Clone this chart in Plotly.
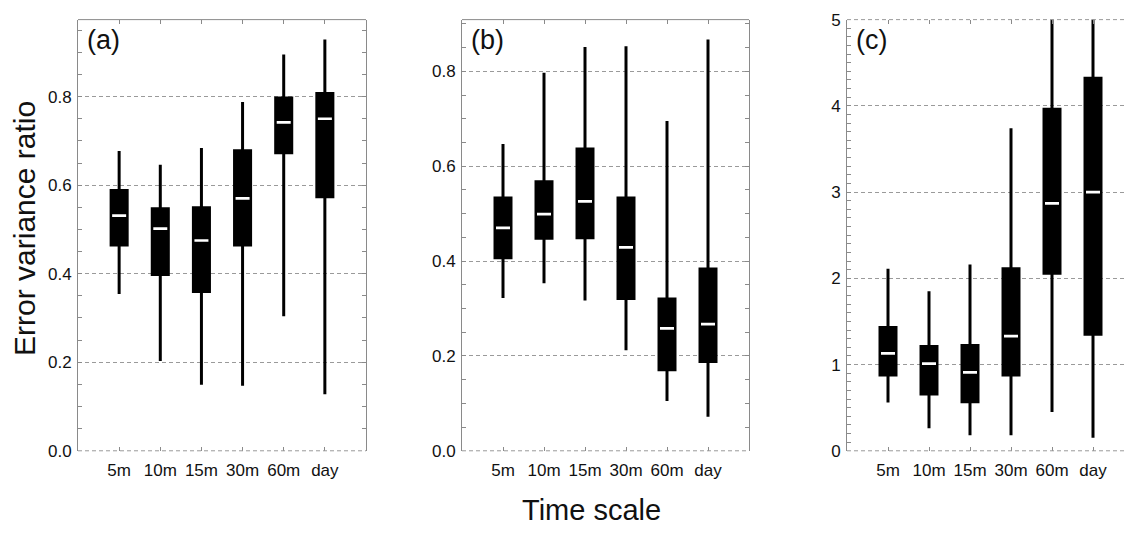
import plotly.graph_objects as go

# Time-scale categories shared by the three panels
labels = ["5m", "10m", "15m", "30m", "60m", "day"]
positions = [1, 2, 3, 4, 5, 6]

# Panel (a): error variance ratio statistics
a_upper = [0.677, 0.646, 0.684, 0.788, 0.895, 0.929]
a_q3 = [0.588, 0.547, 0.549, 0.678, 0.797, 0.807]
a_median = [0.531, 0.502, 0.475, 0.570, 0.742, 0.750]
a_q1 = [0.465, 0.398, 0.360, 0.465, 0.673, 0.574]
a_lower = [0.354, 0.203, 0.149, 0.147, 0.304, 0.128]

# Panel (b)
b_upper = [0.647, 0.797, 0.851, 0.853, 0.695, 0.867]
b_q3 = [0.533, 0.567, 0.636, 0.533, 0.320, 0.383]
b_median = [0.470, 0.499, 0.526, 0.429, 0.258, 0.267]
b_q1 = [0.407, 0.448, 0.449, 0.321, 0.171, 0.188]
b_lower = [0.322, 0.353, 0.317, 0.212, 0.105, 0.072]

# Panel (c)
c_upper = [2.11, 1.85, 2.16, 3.74, 5.60, 5.80]
c_q3 = [1.43, 1.21, 1.22, 2.11, 3.96, 4.32]
c_median = [1.13, 1.01, 0.91, 1.33, 2.87, 3.00]
c_q1 = [0.88, 0.66, 0.57, 0.88, 2.06, 1.35]
c_lower = [0.56, 0.26, 0.18, 0.18, 0.45, 0.15]

panel_tags = ["(a)", "(b)", "(c)"]

W, H = 1127, 537
FONT = "Liberation Sans, Arial, Helvetica, sans-serif"
FRAME = "#8a8a8a"
GRID = "#9a9a9a"

# panel frames in pixels: left, right, top, bottom
frames = [(78, 366), (462, 749), (847, 1127)]
top_px, bottom_px = 11, 458
xranges = [[0, 7], [0, 7], [0, (1127 - 847) / 41.0]]
yranges = [[0, 0.974], [0, 0.909], [0, 5]]
ydticks = [0.2, 0.2, 1]
yminor = [0.05, 0.05, 0.1]
yformats = [".1f", ".1f", "d"]

stats = [
    (a_lower, a_q1, a_median, a_q3, a_upper),
    (b_lower, b_q1, b_median, b_q3, b_upper),
    (c_lower, c_q1, c_median, c_q3, c_upper),
]

fig = go.Figure()
shapes = []
annotations = []

for i, (lo, q1, med, q3, up) in enumerate(stats):
    n = i + 1
    xa = "x" if n == 1 else f"x{n}"
    ya = "y" if n == 1 else f"y{n}"
    fig.add_trace(go.Box(
        x=positions, lowerfence=lo, q1=q1, median=med, q3=q3, upperfence=up,
        xaxis=xa, yaxis=ya,
        fillcolor="black", line=dict(color="black", width=3),
        whiskerwidth=0, width=0.39, boxpoints=False,
        hoverinfo="skip", showlegend=False,
    ))
    # white median dash on each box
    fig.add_trace(go.Scatter(
        x=positions, y=med, xaxis=xa, yaxis=ya, mode="markers",
        marker=dict(symbol="line-ew", size=10,
                    line=dict(color="white", width=2.7)),
        hoverinfo="skip", showlegend=False,
    ))

    l, r = frames[i]
    xdom = [l / W, r / W]
    ydom = [(H - bottom_px) / H, (H - top_px) / H]
    xkey = "xaxis" if n == 1 else f"xaxis{n}"
    ykey = "yaxis" if n == 1 else f"yaxis{n}"
    fig.update_layout(**{
        xkey: dict(
            domain=xdom, range=xranges[i], anchor=ya,
            tickmode="array", tickvals=positions, ticktext=labels,
            ticks="inside", ticklen=4, tickwidth=1, tickcolor=FRAME,
            showline=True, linecolor="rgba(0,0,0,0)", mirror="ticks",
            showgrid=False, zeroline=False,
            tickfont=dict(family=FONT, size=17, color="#111"),
            ticklabelstandoff=4, fixedrange=True,
        ),
        ykey: dict(
            domain=ydom, range=yranges[i], anchor=xa,
            dtick=ydticks[i], tick0=0, tickformat=yformats[i],
            ticks="inside", ticklen=4, tickwidth=1, tickcolor=FRAME,
            minor=dict(dtick=yminor[i], ticks="inside", ticklen=4,
                       tickcolor=FRAME, showgrid=False),
            showline=True, linecolor=FRAME, linewidth=1,
            mirror="ticks" if n < 3 else False,
            showgrid=True, gridcolor=GRID, gridwidth=1, griddash="4px,3px",
            zeroline=False,
            tickfont=dict(family=FONT, size=17, color="#111"),
            ticklabelstandoff=2, fixedrange=True,
        ),
    })

    xd = f"{xa} domain"
    yd = f"{ya} domain"
    # dashed bottom edge, solid or dashed top edge
    shapes.append(dict(type="line", xref=xd, yref=yd, x0=0, x1=1, y0=0, y1=0,
                       line=dict(color=GRID, width=1, dash="4px,3px"), layer="above"))
    shapes.append(dict(type="line", xref=xd, yref=yd, x0=0, x1=1, y0=1, y1=1,
                       line=dict(color=FRAME if n < 3 else GRID, width=1,
                                 dash="solid" if n < 3 else "4px,3px"),
                       layer="above"))

    annotations.append(dict(
        text=panel_tags[i], xref="paper", yref="paper",
        x=(l + 7) / W, y=(H - 32) / H, xanchor="left", yanchor="middle",
        showarrow=False, font=dict(family=FONT, size=27, color="#111"),
    ))

annotations.append(dict(
    text="Error variance ratio", xref="paper", yref="paper",
    x=25 / W, y=(H - 228) / H, textangle=-90,
    xanchor="center", yanchor="middle", showarrow=False,
    font=dict(family=FONT, size=30, color="#111"),
))
annotations.append(dict(
    text="Time scale", xref="paper", yref="paper",
    x=591 / W, y=(H - 519) / H, xanchor="center", yanchor="middle",
    showarrow=False, font=dict(family=FONT, size=29, color="#111"),
))

fig.update_layout(
    width=W, height=H, autosize=False, margin=dict(l=0, r=0, t=0, b=0, pad=0),
    paper_bgcolor="white", plot_bgcolor="white",
    showlegend=False, shapes=shapes, annotations=annotations,
    boxmode="overlay",
)

fig.write_html("out.html", config={"displayModeBar": False, "responsive": False})
